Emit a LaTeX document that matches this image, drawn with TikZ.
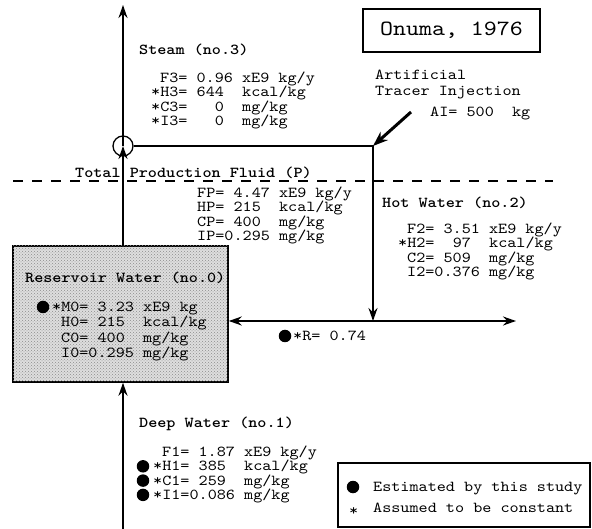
\documentclass[tikz,border=0pt]{standalone}
\usepackage{fontspec}
\setmonofont[Extension=.otf, FakeStretch=1.14, BoldFont=lmmonolt10-bold]{lmmono10-regular}
\usetikzlibrary{arrows.meta,patterns}

\begin{document}
\begin{tikzpicture}[x=1pt,y=-1pt,
  txt/.style={font=\ttfamily\fontsize{15.2}{15}\selectfont, inner sep=0pt, anchor=base west,
              text height=10pt, text depth=2.5pt},
  lbl/.style={txt, font=\ttfamily\bfseries\fontsize{15.2}{15}\selectfont},
  flow/.style={line width=2pt},
  tip/.tip={Stealth[length=13pt,width=9pt]},
  bigtip/.tip={Stealth[length=15pt,width=11pt]},
  est/.style={circle, fill=black, inner sep=0pt, minimum size=12.5pt},
  frame/.style={draw, line width=1.2pt}]

\useasboundingbox (0,0) rectangle (592,529);

% ---- title ----
\node[frame, minimum width=177pt, minimum height=43pt, inner sep=0pt,
      font=\ttfamily\fontsize{21.7}{22}\selectfont] (title) at (451.5,30.5) {Onuma, 1976};

% ---- reservoir box (stippled) ----
\node[draw, line width=1.5pt, fill=black!13, minimum width=215pt, minimum height=136pt,
      inner sep=0pt, postaction={pattern=crosshatch dots, pattern color=black!45}] (res) at (120.5,314) {};

% ---- junction and flow paths ----
\coordinate (top) at (123,5);
\node[circle, draw, line width=1.3pt, minimum size=20pt, inner sep=0pt] (junc) at (123,146) {};
\coordinate (corner) at (373,146);
\coordinate (inj) at (411,112);
\coordinate (rmid) at (373,321);
\coordinate (rend) at (516,321);
\coordinate (bot) at (123,529);
\coordinate (dl) at (13,181);
\coordinate (dr) at (553,181);

\draw[line width=1.2pt, dash pattern=on 10pt off 9pt] (dl) -- (dr);

\draw[flow,-{tip}] (junc.center) -- (top);
\draw[flow,-{tip}] (res.north -| junc.center) -- (junc.center);
\draw[flow,-{tip}] (junc.east) -- (corner) -- (rmid);
\draw[flow,{tip}-{tip}] (res.east |- rmid) -- (rend);
\draw[line width=3pt,-{bigtip}] (inj) -- (corner);
\draw[flow,-{tip}] (bot) -- (res.south -| junc.center);

% ---- steam ----
\node[lbl] (steam) at (139,54.5) {Steam (no.3)};
\node[txt] (f3) at (160,82.5) {F3= 0.96 xE9 kg/y};
\node[txt] (h3) at (151,97) {*H3= 644~ kcal/kg};
\node[txt] (c3) at (151,111.5) {*C3=~~ 0~ mg/kg};
\node[txt] (i3) at (151,126) {*I3=~~ 0~ mg/kg};

% ---- tracer injection ----
\node[txt] (art) at (375,79.5) {Artificial};
\node[txt] (tracer) at (375,95.5) {Tracer Injection};
\node[txt] (ai) at (430,116.5) {AI= 500~ kg};

% ---- total production fluid ----
\node[lbl] (tpf) at (75,177.5) {Total Production Fluid (P)};
\node[txt] (fp) at (197,197.5) {FP= 4.47 xE9 kg/y};
\node[txt] (hp) at (197,212) {HP= 215~ kcal/kg};
\node[txt] (cp) at (197,226.5) {CP= 400~ mg/kg};
\node[txt] (ip) at (197,241) {IP=0.295 mg/kg};

% ---- hot water ----
\node[lbl] (hot) at (382,207.5) {Hot Water (no.2)};
\node[txt] (f2) at (407,233.5) {F2= 3.51 xE9 kg/y};
\node[txt] (h2) at (398,247.8) {*H2=~ 97~ kcal/kg};
\node[txt] (c2) at (407,262.1) {C2= 509~ mg/kg};
\node[txt] (i2) at (407,276.4) {I2=0.376 mg/kg};

% ---- reservoir water ----
\node[lbl] (resl) at (25,282.5) {Reservoir Water (no.0)};
\node[est] (m0dot) at (43,307) {};
\node[txt] (m0) at (52,311.5) {*M0= 3.23 xE9 kg};
\node[txt] (h0) at (61,326.8) {H0= 215~ kcal/kg};
\node[txt] (c0) at (61,342.1) {C0= 400~ mg/kg};
\node[txt] (i0) at (61,357.4) {I0=0.295 mg/kg};

% ---- recharge ratio ----
\node[est] (rdot) at (285,336) {};
\node[txt] (r) at (293,340.5) {*R= 0.74};

% ---- deep water ----
\node[lbl] (deep) at (139,427.5) {Deep Water (no.1)};
\node[txt] (f1) at (162,456.5) {F1= 1.87 xE9 kg/y};
\node[est] (h1dot) at (143,466.3) {};
\node[txt] (h1) at (153,470.8) {*H1= 385~ kcal/kg};
\node[est] (c1dot) at (143,480.6) {};
\node[txt] (c1) at (153,485.1) {*C1= 259~ mg/kg};
\node[est] (i1dot) at (143,494.9) {};
\node[txt] (i1) at (153,499.4) {*I1=0.086 mg/kg};

% ---- legend ----
\node[frame, minimum width=252pt, minimum height=64pt, inner sep=0pt] (legend) at (464,495) {};
\node[est] (legdot) at (353,487) {};
\node[txt] (legest) at (373,491.5) {Estimated by this study};
\node[txt] (legstar) at (349,515) {*};
\node[txt] (legconst) at (373,512.5) {Assumed to be constant};

\end{tikzpicture}
\end{document}
